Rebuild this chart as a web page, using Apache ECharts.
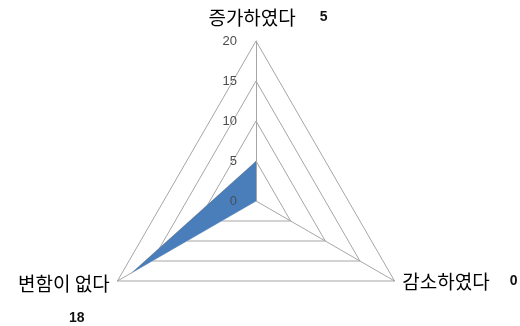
<!DOCTYPE html>
<html>
<head>
<meta charset="utf-8">
<script src="https://cdn.jsdelivr.net/npm/echarts@6/dist/echarts.min.js"></script>
<style>
  html, body { margin: 0; padding: 0; background: #fff; }
  #chart { width: 520px; height: 326px; }
</style>
</head>
<body>
<div id="chart"></div>
<script>
// radar order: top, bottom-left, bottom-right
const categories = ['증가하였다', '변함이 없다', '감소하였다'];
const values = [5, 18, 0];
const axisMax = 20;

const FONT = '"Noto Sans CJK KR", "Noto Sans", sans-serif';
const NUM_FONT = '"Liberation Sans", Arial, sans-serif';

const nameStyle = { fontSize: 19, color: '#000', fontFamily: FONT };
const valueStyle = { fontSize: 14, fontWeight: 'bold', color: '#111', fontFamily: NUM_FONT };

const center = [256, 201];
const radius = 160;

const chart = echarts.init(document.getElementById('chart'));

chart.setOption({
    animation: false,
    radar: [{
        // grid, spokes and category names (under the area)
        center: center,
        radius: radius,
        startAngle: 90,
        shape: 'polygon',
        splitNumber: 4,
        nameGap: 9,
        indicator: categories.map(c => ({ name: c, min: 0, max: axisMax })),
        axisName: {
            formatter: (name) => {
                const i = categories.indexOf(name);
                const v = values[i];
                if (i === 0) return '{pad|}{nt|' + name + '}{vt|' + v + '}';
                if (i === 1) return '{sp|}\n{n|' + name + '}\n{vb|' + v + '}';
                return '{n|' + name + '}{vr|' + v + '}\n{sp2|}';
            },
            rich: {
                n: Object.assign({}, nameStyle, { lineHeight: 20 }),
                nt: Object.assign({}, nameStyle, { lineHeight: 29 }),
                vt: Object.assign({}, valueStyle, { lineHeight: 29, padding: [0, 0, 0, 24] }),
                vr: Object.assign({}, valueStyle, { lineHeight: 20, padding: [0, 0, 0, 20] }),
                vb: Object.assign({}, valueStyle, { lineHeight: 50, padding: [0, 25, 0, 0] }),
                pad: { width: 24, lineHeight: 29 },
                sp: { height: 46, lineHeight: 46 },
                sp2: { height: 8, lineHeight: 8 }
            }
        },
        axisLabel: { show: false },
        axisLine: { lineStyle: { color: '#a6a6a6', width: 1 } },
        splitLine: { lineStyle: { color: '#a6a6a6', width: 1 } },
        splitArea: { show: false },
        axisTick: { show: false }
    }, {
        // tick labels only, drawn above the filled area
        z: 5,
        center: center,
        radius: radius,
        startAngle: 90,
        shape: 'polygon',
        splitNumber: 4,
        indicator: categories.map((c, i) => ({
            name: c,
            min: 0,
            max: axisMax,
            axisLabel: { show: i === 0, showMinLabel: true }
        })),
        axisName: { show: false },
        axisLabel: {
            show: false,
            showMinLabel: true,
            color: '#4d4d4d',
            fontSize: 13,
            fontFamily: NUM_FONT,
            margin: 19
        },
        axisLine: { show: false },
        splitLine: { show: false },
        splitArea: { show: false },
        axisTick: { show: false }
    }],
    series: [{
        type: 'radar',
        radarIndex: 0,
        symbol: 'none',
        lineStyle: { width: 0 },
        areaStyle: { color: '#4a7ebb', opacity: 1 },
        data: [{ value: values }]
    }]
});
</script>
</body>
</html>
